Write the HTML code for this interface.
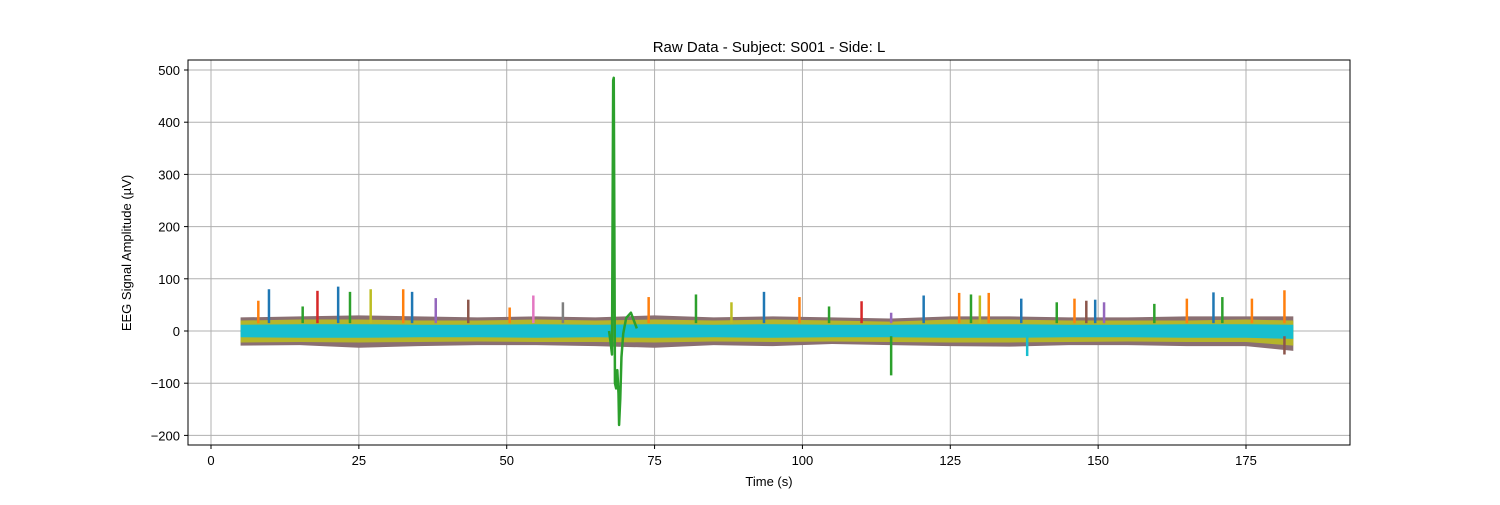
<!DOCTYPE html>
<html><head><meta charset="utf-8"><style>
body{margin:0;background:#fff;}
svg text{font-family:"Liberation Sans",sans-serif;font-size:13px;fill:#000;}
</style></head><body>
<svg id="chart" width="1500" height="500" xmlns="http://www.w3.org/2000/svg">
<rect width="1500" height="500" fill="#fff"/>
<g id="grid"></g>
<g id="marks"></g>
<rect x="188" y="60" width="1162" height="385" fill="none" stroke="#000" stroke-width="1"/>
<g id="axes"></g>
<text x="769" y="52" text-anchor="middle" style="font-size:15px">Raw Data - Subject: S001 - Side: L</text>
<text x="769" y="486" text-anchor="middle">Time (s)</text>
<text transform="translate(131,253) rotate(-90)" text-anchor="middle">EEG Signal Amplitude (µV)</text>
</svg>
<script>
const xTicks=[0,25,50,75,100,125,150,175];
const yTicks=[-200,-100,0,100,200,300,400,500];
const bandTimes=[5,15,25,35,45,55,65,75,85,95,105,115,125,135,145,155,165,175,183];
const outerUpper=[26,28,30,28,26,28,26,30,26,28,26,24,28,28,26,26,28,28,28];
const outerLower=[-28,-27,-32,-29,-27,-27,-29,-32,-27,-29,-25,-27,-29,-30,-27,-27,-29,-29,-38];
const oliveUpper=[20,22,22,20,20,22,20,22,20,22,20,18,22,22,20,20,20,22,20];
const oliveLower=[-22,-21,-22,-21,-20,-21,-21,-22,-20,-21,-20,-21,-22,-22,-21,-20,-21,-21,-28];
const cyanUpper=[12,13,13,12,12,13,12,13,12,13,12,12,13,13,12,12,13,13,12];
const cyanLower=[-12,-13,-13,-12,-12,-13,-12,-13,-12,-13,-12,-12,-13,-13,-12,-12,-13,-13,-15];
const spikeTimes=[8,9.8,15.5,18,21.5,23.5,27,32.5,34,38,43.5,50.5,54.5,59.5,74,82,88,93.5,99.5,104.5,110,115,120.5,126.5,128.5,130,131.5,137,143,146,148,149.5,151,159.5,165,169.5,171,176,181.5];
const spikeValues=[58,80,47,77,85,75,80,80,75,63,60,45,68,55,65,70,55,75,65,47,57,35,68,73,70,68,73,62,55,62,58,60,55,52,62,74,65,62,78];
const spikeColors=['#ff7f0e','#1f77b4','#2ca02c','#d62728','#1f77b4','#2ca02c','#bcbd22','#ff7f0e','#1f77b4','#9467bd','#8c564b','#ff7f0e','#e377c2','#7f7f7f','#ff7f0e','#2ca02c','#bcbd22','#1f77b4','#ff7f0e','#2ca02c','#d62728','#9467bd','#1f77b4','#ff7f0e','#2ca02c','#bcbd22','#ff7f0e','#1f77b4','#2ca02c','#ff7f0e','#8c564b','#1f77b4','#9467bd','#2ca02c','#ff7f0e','#1f77b4','#2ca02c','#ff7f0e','#ff7f0e'];
const artifactTimes=[67.3,67.6,67.8,68,68.1,68.2,68.3,68.5,68.7,68.9,69,69.2,69.4,69.7,70.2,71,72];
const artifactValues=[0,-25,-45,480,485,200,-100,-110,-75,-120,-180,-130,-50,-5,25,35,5];
const negTimes=[115,138,181.5];
const negValues=[-85,-48,-45];
const negColors=['#2ca02c','#17becf','#8c564b'];

const NS='http://www.w3.org/2000/svg';
const X=t=>211+t*(1035/175);
const Y=v=>331-v*(261/500);
function mk(tag,attrs,parent){const e=document.createElementNS(NS,tag);for(const k in attrs)e.setAttribute(k,attrs[k]);parent.appendChild(e);return e;}
const grid=document.getElementById('grid'),axes=document.getElementById('axes'),marks=document.getElementById('marks');
const fmt=v=>v<0?'\u2212'+(-v):String(v);
xTicks.forEach(t=>{
  const l=mk('line',{x1:X(t),x2:X(t),y1:60,y2:445,stroke:'#b0b0b0','stroke-width':1},grid);
  
  
  mk('line',{x1:X(t),x2:X(t),y1:445,y2:449,stroke:'#000'},axes);
  const tx=mk('text',{x:X(t),y:465,'text-anchor':'middle'},axes);tx.textContent=fmt(t);
  
  
});
yTicks.forEach(v=>{
  const l=mk('line',{x1:188,x2:1350,y1:Y(v),y2:Y(v),stroke:'#b0b0b0','stroke-width':1},grid);
  
  
  mk('line',{x1:184,x2:188,y1:Y(v),y2:Y(v),stroke:'#000'},axes);
  const tx=mk('text',{x:180,y:Y(v)+5,'text-anchor':'end'},axes);tx.textContent=fmt(v);
  
  
});
function band(up,lo,fill,name){
  let pts=bandTimes.map((t,i)=>X(t)+','+Y(up[i]));
  pts=pts.concat(bandTimes.map((t,i)=>X(t)+','+Y(lo[i])).reverse());
  const p=mk('polygon',{points:pts.join(' '),fill:fill},marks);
  
  
}
band(outerUpper,outerLower,'#8a6f72','outer-channel-band');
band(oliveUpper,oliveLower,'#b5b52a','olive-channel-band');
band(cyanUpper,cyanLower,'#17becf','cyan-channel-band');
spikeTimes.forEach((t,i)=>{
  const l=mk('line',{x1:X(t),x2:X(t),y1:Y(15),y2:Y(spikeValues[i]),stroke:spikeColors[i],'stroke-width':2.5},marks);
  
  
});
negTimes.forEach((t,i)=>{
  const l=mk('line',{x1:X(t),x2:X(t),y1:Y(-10),y2:Y(negValues[i]),stroke:negColors[i],'stroke-width':2.5},marks);
  
  
});
const ap=mk('polyline',{points:artifactTimes.map((t,i)=>X(t)+','+Y(artifactValues[i])).join(' '),fill:'none',stroke:'#2ca02c','stroke-width':2.5,'stroke-linejoin':'round'},marks);


</script>
</body></html>
